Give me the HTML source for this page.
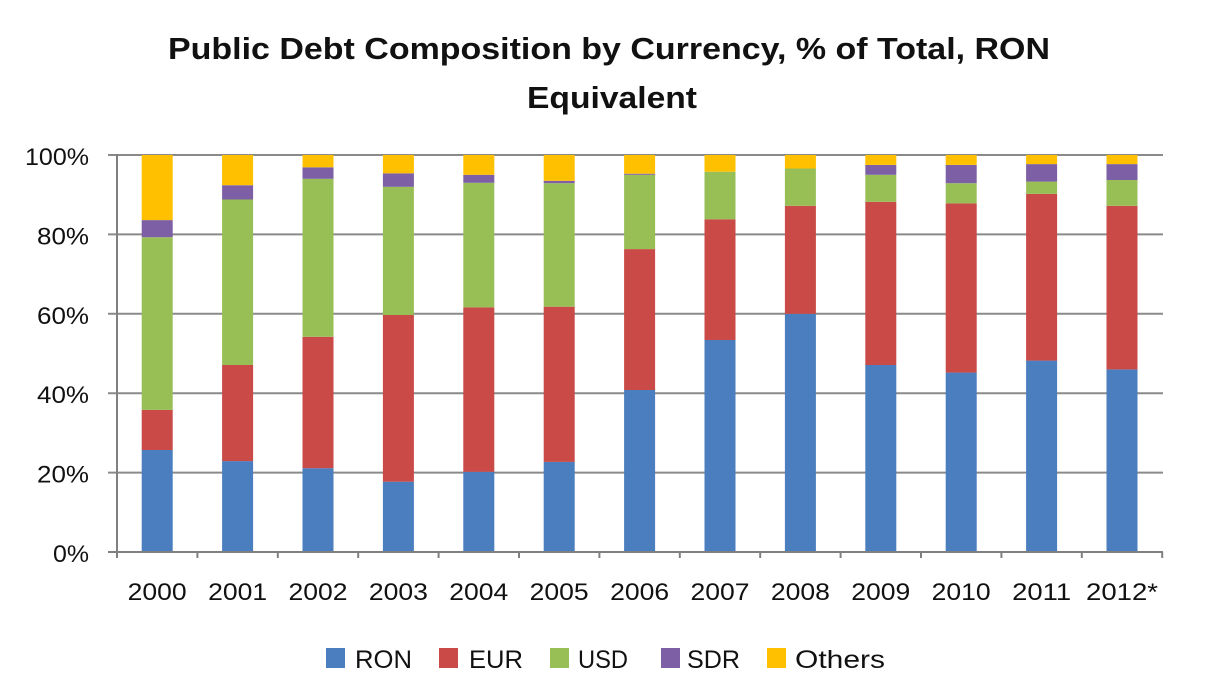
<!DOCTYPE html>
<html>
<head>
<meta charset="utf-8">
<style>
  html, body { margin:0; padding:0; background:#fff; }
  svg { display:block; }
  text { font-family: "Liberation Sans", sans-serif; fill:#111; }
</style>
</head>
<body>
<svg width="1210" height="700" viewBox="0 0 1210 700" xmlns="http://www.w3.org/2000/svg">
  <rect x="0" y="0" width="1210" height="700" fill="#fff"/>
  <!-- Title -->
  <text x="609" y="59" font-size="31" font-weight="bold" text-anchor="middle" textLength="882" lengthAdjust="spacingAndGlyphs">Public Debt Composition by Currency, % of Total, RON</text>
  <text x="612" y="108" font-size="31" font-weight="bold" text-anchor="middle" textLength="170" lengthAdjust="spacingAndGlyphs">Equivalent</text>

  <!-- Gridlines -->
  <g stroke="#8a8a8a" stroke-width="2">
    <line x1="108" y1="155" x2="1163" y2="155"/>
    <line x1="108" y1="234.4" x2="1163" y2="234.4"/>
    <line x1="108" y1="313.8" x2="1163" y2="313.8"/>
    <line x1="108" y1="393.2" x2="1163" y2="393.2"/>
    <line x1="108" y1="472.6" x2="1163" y2="472.6"/>
  </g>

  <!-- Bars -->
  <g>
    <!-- 2000 -->
    <rect x="141.7" y="450" width="31" height="102" fill="#4A7EBF"/>
    <rect x="141.7" y="409.9" width="31" height="40.1" fill="#C94A47"/>
    <rect x="141.7" y="237.2" width="31" height="172.7" fill="#98BF56"/>
    <rect x="141.7" y="220.1" width="31" height="17.1" fill="#7D5FA6"/>
    <rect x="141.7" y="155" width="31" height="65.1" fill="#FFC000"/>
    <!-- 2001 -->
    <rect x="222.1" y="461.1" width="31" height="90.9" fill="#4A7EBF"/>
    <rect x="222.1" y="365" width="31" height="96.1" fill="#C94A47"/>
    <rect x="222.1" y="199.5" width="31" height="165.5" fill="#98BF56"/>
    <rect x="222.1" y="185.2" width="31" height="14.3" fill="#7D5FA6"/>
    <rect x="222.1" y="155" width="31" height="30.2" fill="#FFC000"/>
    <!-- 2002 -->
    <rect x="302.5" y="468.2" width="31" height="83.8" fill="#4A7EBF"/>
    <rect x="302.5" y="336.8" width="31" height="131.4" fill="#C94A47"/>
    <rect x="302.5" y="178.8" width="31" height="158" fill="#98BF56"/>
    <rect x="302.5" y="167.3" width="31" height="11.5" fill="#7D5FA6"/>
    <rect x="302.5" y="155" width="31" height="12.3" fill="#FFC000"/>
    <!-- 2003 -->
    <rect x="382.9" y="481.7" width="31" height="70.3" fill="#4A7EBF"/>
    <rect x="382.9" y="315" width="31" height="166.7" fill="#C94A47"/>
    <rect x="382.9" y="186.8" width="31" height="128.2" fill="#98BF56"/>
    <rect x="382.9" y="173.3" width="31" height="13.5" fill="#7D5FA6"/>
    <rect x="382.9" y="155" width="31" height="18.3" fill="#FFC000"/>
    <!-- 2004 -->
    <rect x="463.3" y="471.8" width="31" height="80.2" fill="#4A7EBF"/>
    <rect x="463.3" y="307.4" width="31" height="164.4" fill="#C94A47"/>
    <rect x="463.3" y="182.8" width="31" height="124.6" fill="#98BF56"/>
    <rect x="463.3" y="174.8" width="31" height="8" fill="#7D5FA6"/>
    <rect x="463.3" y="155" width="31" height="19.8" fill="#FFC000"/>
    <!-- 2005 -->
    <rect x="543.7" y="461.9" width="31" height="90.1" fill="#4A7EBF"/>
    <rect x="543.7" y="306.7" width="31" height="155.2" fill="#C94A47"/>
    <rect x="543.7" y="183.2" width="31" height="123.5" fill="#98BF56"/>
    <rect x="543.7" y="180.8" width="31" height="2.4" fill="#7D5FA6"/>
    <rect x="543.7" y="155" width="31" height="25.8" fill="#FFC000"/>
    <!-- 2006 -->
    <rect x="624.1" y="390" width="31" height="162" fill="#4A7EBF"/>
    <rect x="624.1" y="249.1" width="31" height="140.9" fill="#C94A47"/>
    <rect x="624.1" y="174.8" width="31" height="74.3" fill="#98BF56"/>
    <rect x="624.1" y="173.7" width="31" height="1.1" fill="#7D5FA6"/>
    <rect x="624.1" y="155" width="31" height="18.7" fill="#FFC000"/>
    <!-- 2007 -->
    <rect x="704.5" y="340" width="31" height="212" fill="#4A7EBF"/>
    <rect x="704.5" y="219.3" width="31" height="120.7" fill="#C94A47"/>
    <rect x="704.5" y="171.7" width="31" height="47.6" fill="#98BF56"/>
    <rect x="704.5" y="155" width="31" height="16.7" fill="#FFC000"/>
    <!-- 2008 -->
    <rect x="784.9" y="313.8" width="31" height="238.2" fill="#4A7EBF"/>
    <rect x="784.9" y="205.8" width="31" height="108" fill="#C94A47"/>
    <rect x="784.9" y="168.5" width="31" height="37.3" fill="#98BF56"/>
    <rect x="784.9" y="155" width="31" height="13.5" fill="#FFC000"/>
    <!-- 2009 -->
    <rect x="865.3" y="365" width="31" height="187" fill="#4A7EBF"/>
    <rect x="865.3" y="201.8" width="31" height="163.2" fill="#C94A47"/>
    <rect x="865.3" y="174.8" width="31" height="27" fill="#98BF56"/>
    <rect x="865.3" y="164.9" width="31" height="9.9" fill="#7D5FA6"/>
    <rect x="865.3" y="155" width="31" height="9.9" fill="#FFC000"/>
    <!-- 2010 -->
    <rect x="945.7" y="372.6" width="31" height="179.4" fill="#4A7EBF"/>
    <rect x="945.7" y="203.4" width="31" height="169.2" fill="#C94A47"/>
    <rect x="945.7" y="183.2" width="31" height="20.2" fill="#98BF56"/>
    <rect x="945.7" y="164.9" width="31" height="18.3" fill="#7D5FA6"/>
    <rect x="945.7" y="155" width="31" height="9.9" fill="#FFC000"/>
    <!-- 2011 -->
    <rect x="1026.1" y="360.6" width="31" height="191.4" fill="#4A7EBF"/>
    <rect x="1026.1" y="193.9" width="31" height="166.7" fill="#C94A47"/>
    <rect x="1026.1" y="181.6" width="31" height="12.3" fill="#98BF56"/>
    <rect x="1026.1" y="164.1" width="31" height="17.5" fill="#7D5FA6"/>
    <rect x="1026.1" y="155" width="31" height="9.1" fill="#FFC000"/>
    <!-- 2012* -->
    <rect x="1106.5" y="369.4" width="31" height="182.6" fill="#4A7EBF"/>
    <rect x="1106.5" y="205.8" width="31" height="163.6" fill="#C94A47"/>
    <rect x="1106.5" y="180" width="31" height="25.8" fill="#98BF56"/>
    <rect x="1106.5" y="164.1" width="31" height="15.9" fill="#7D5FA6"/>
    <rect x="1106.5" y="155" width="31" height="9.1" fill="#FFC000"/>
  </g>

  <!-- Axes -->
  <g stroke="#808080" stroke-width="2">
    <line x1="117" y1="154" x2="117" y2="558"/>
    <line x1="108" y1="552" x2="1163" y2="552"/>
    <line x1="197.4" y1="552" x2="197.4" y2="558"/>
    <line x1="277.8" y1="552" x2="277.8" y2="558"/>
    <line x1="358.2" y1="552" x2="358.2" y2="558"/>
    <line x1="438.6" y1="552" x2="438.6" y2="558"/>
    <line x1="519" y1="552" x2="519" y2="558"/>
    <line x1="599.4" y1="552" x2="599.4" y2="558"/>
    <line x1="679.8" y1="552" x2="679.8" y2="558"/>
    <line x1="760.2" y1="552" x2="760.2" y2="558"/>
    <line x1="840.6" y1="552" x2="840.6" y2="558"/>
    <line x1="921" y1="552" x2="921" y2="558"/>
    <line x1="1001.4" y1="552" x2="1001.4" y2="558"/>
    <line x1="1081.8" y1="552" x2="1081.8" y2="558"/>
    <line x1="1162.2" y1="552" x2="1162.2" y2="558"/>
  </g>

  <!-- Y labels -->
  <g font-size="24" text-anchor="end">
    <text x="89" y="165" textLength="64" lengthAdjust="spacingAndGlyphs">100%</text>
    <text x="89" y="244.4" textLength="52" lengthAdjust="spacingAndGlyphs">80%</text>
    <text x="89" y="323.8" textLength="52" lengthAdjust="spacingAndGlyphs">60%</text>
    <text x="89" y="403.2" textLength="52" lengthAdjust="spacingAndGlyphs">40%</text>
    <text x="89" y="482.6" textLength="52" lengthAdjust="spacingAndGlyphs">20%</text>
    <text x="89" y="562" textLength="36" lengthAdjust="spacingAndGlyphs">0%</text>
  </g>

  <!-- X labels -->
  <g font-size="24" text-anchor="middle">
    <text x="157.2" y="600" textLength="59" lengthAdjust="spacingAndGlyphs">2000</text>
    <text x="237.6" y="600" textLength="59" lengthAdjust="spacingAndGlyphs">2001</text>
    <text x="318" y="600" textLength="59" lengthAdjust="spacingAndGlyphs">2002</text>
    <text x="398.4" y="600" textLength="59" lengthAdjust="spacingAndGlyphs">2003</text>
    <text x="478.8" y="600" textLength="59" lengthAdjust="spacingAndGlyphs">2004</text>
    <text x="559.2" y="600" textLength="59" lengthAdjust="spacingAndGlyphs">2005</text>
    <text x="639.6" y="600" textLength="59" lengthAdjust="spacingAndGlyphs">2006</text>
    <text x="720" y="600" textLength="59" lengthAdjust="spacingAndGlyphs">2007</text>
    <text x="800.4" y="600" textLength="59" lengthAdjust="spacingAndGlyphs">2008</text>
    <text x="880.8" y="600" textLength="59" lengthAdjust="spacingAndGlyphs">2009</text>
    <text x="961.2" y="600" textLength="59" lengthAdjust="spacingAndGlyphs">2010</text>
    <text x="1041.6" y="600" textLength="59" lengthAdjust="spacingAndGlyphs">2011</text>
    <text x="1122" y="600" textLength="72" lengthAdjust="spacingAndGlyphs">2012*</text>
  </g>

  <!-- Legend -->
  <g font-size="25">
    <rect x="326" y="648" width="19" height="20" fill="#4A7EBF"/>
    <text x="355" y="668" textLength="57" lengthAdjust="spacingAndGlyphs">RON</text>
    <rect x="439" y="648" width="19" height="20" fill="#C94A47"/>
    <text x="469" y="668" textLength="54" lengthAdjust="spacingAndGlyphs">EUR</text>
    <rect x="550" y="648" width="19" height="20" fill="#98BF56"/>
    <text x="578" y="668" textLength="50" lengthAdjust="spacingAndGlyphs">USD</text>
    <rect x="661" y="648" width="19" height="20" fill="#7D5FA6"/>
    <text x="687" y="668" textLength="53" lengthAdjust="spacingAndGlyphs">SDR</text>
    <rect x="767" y="648" width="19" height="20" fill="#FFC000"/>
    <text x="795" y="668" textLength="90" lengthAdjust="spacingAndGlyphs">Others</text>
  </g>
</svg>
</body>
</html>
